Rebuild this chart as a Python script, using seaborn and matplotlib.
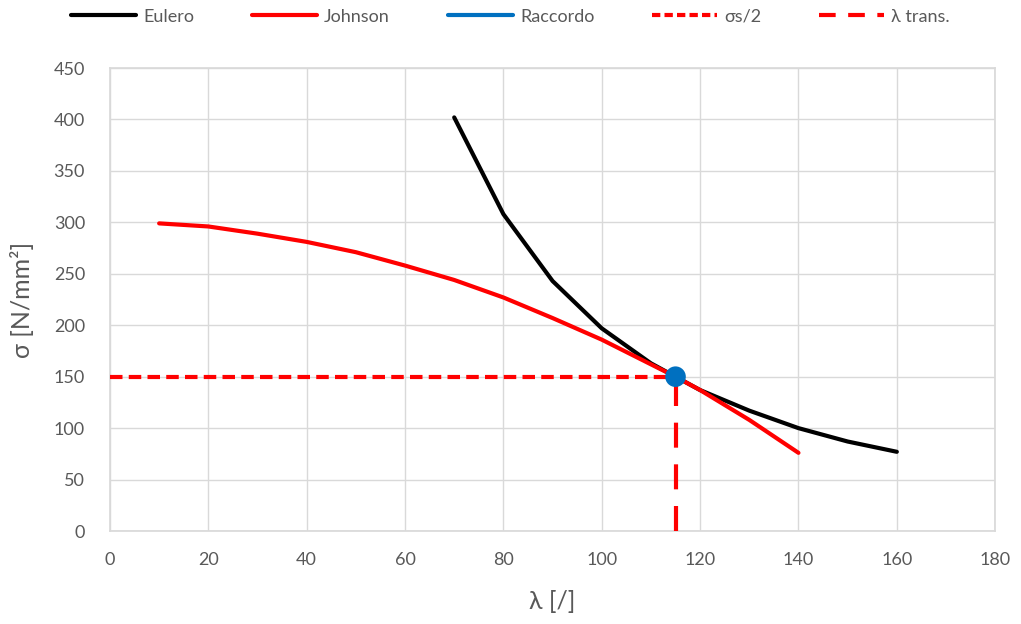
import numpy as np
import pandas as pd
import seaborn as sns
import matplotlib.pyplot as plt
from matplotlib.lines import Line2D

# data
lam_euler = [70, 80, 90, 100, 110, 120, 130, 140, 150, 160]
sig_euler = [402, 308, 243, 197, 163, 137, 117, 100, 87, 77]

lam_johnson = [10, 20, 30, 40, 50, 60, 70, 80, 90, 100, 110, 115, 120, 130, 140]
sig_johnson = [299, 296, 289, 281, 271, 258, 244, 227, 207, 186, 162, 150, 137, 108, 76]

lam_trans = 115
sig_half = 150

sns.set_theme(style="whitegrid")
plt.rcParams['font.family'] = ['Lato', 'DejaVu Sans']

fig = plt.figure(figsize=(10.21, 6.24), dpi=100)
ax = fig.add_axes([0.1077, 0.149, 0.867, 0.742])

df_e = pd.DataFrame({'lam': lam_euler, 'sig': sig_euler})
df_j = pd.DataFrame({'lam': lam_johnson, 'sig': sig_johnson})

sns.lineplot(data=df_j, x='lam', y='sig', color='#ff0000', linewidth=3, ax=ax, zorder=3)
sns.lineplot(data=df_e, x='lam', y='sig', color='black', linewidth=3, ax=ax, zorder=2)

# sigma_s/2 horizontal and lambda transition vertical
ax.plot([0, lam_trans], [sig_half, sig_half], color='#ff0000', linewidth=3,
        linestyle=(0, (3, 1.5)), zorder=4)
ax.plot([lam_trans, lam_trans], [0, sig_half], color='#ff0000', linewidth=3,
        linestyle=(0, (6, 4)), zorder=4)
sns.scatterplot(x=[lam_trans], y=[sig_half], color='#0070c0', s=220, ax=ax,
                zorder=5, edgecolor='none')

ax.set_xlim(0, 180)
ax.set_ylim(0, 450)
ax.set_xticks(np.arange(0, 181, 20))
ax.set_yticks(np.arange(0, 451, 50))
ax.grid(True, color='#d9d9d9', linewidth=1)
for s in ax.spines.values():
    s.set_color('#d9d9d9')
ax.set_facecolor('white')
ax.tick_params(axis='x', labelsize=13, colors='#595959', pad=15, length=0)
ax.tick_params(axis='y', labelsize=13, colors='#595959', pad=18, length=0)

ax.set_xlabel('λ [/]', fontsize=18, color='#595959', labelpad=16)
ax.set_ylabel('σ [N/mm²]', fontsize=18, color='#595959', labelpad=14)

handles = [
    Line2D([], [], color='black', linewidth=3),
    Line2D([], [], color='#ff0000', linewidth=3),
    Line2D([], [], color='#0070c0', linewidth=3),
    Line2D([], [], color='#ff0000', linewidth=3, linestyle=(0, (2, 1))),
    Line2D([], [], color='#ff0000', linewidth=3, linestyle=(0, (4, 3))),
]
labels = ['Eulero', 'Johnson', 'Raccordo', 'σs/2', 'λ trans.']
leg = fig.legend(handles, labels, loc='upper center', bbox_to_anchor=(0.5, 1.012),
                 ncol=5, frameon=False, fontsize=13, handlelength=3.6,
                 columnspacing=3.2, handletextpad=0.4)
for t in leg.get_texts():
    t.set_color('#595959')

fig.savefig('out.png', dpi=100)
